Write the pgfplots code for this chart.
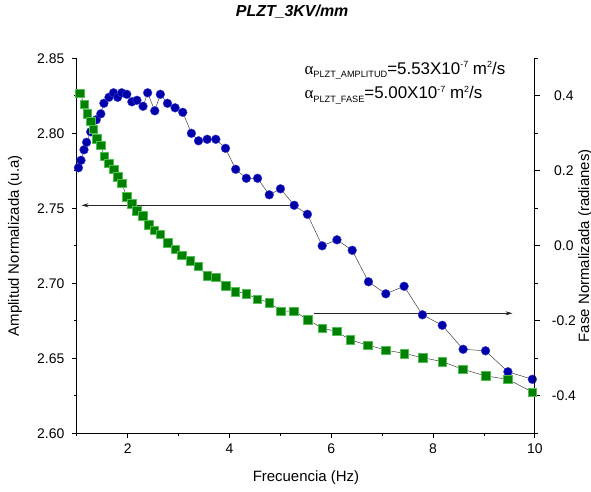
\documentclass[border=0pt]{standalone}
\usepackage{fontspec}
\setmainfont{Liberation Sans}
\newfontfamily\serifa{Liberation Serif}
\usepackage{pgfplots}
\pgfplotsset{compat=1.18}
\usetikzlibrary{arrows.meta}
\definecolor{cblue}{RGB}{0,0,170}
\definecolor{cblueb}{RGB}{60,60,210}
\definecolor{cgreen}{RGB}{0,128,0}
\definecolor{cgreenb}{RGB}{80,190,80}

\pgfplotstableread{
x y
1.03 2.777
1.08 2.782
1.14 2.789
1.19 2.794
1.27 2.801
1.38 2.809
1.47 2.813
1.53 2.820
1.63 2.824
1.72 2.827
1.80 2.824
1.88 2.827
1.98 2.826
2.08 2.821
2.18 2.822
2.30 2.818
2.39 2.827
2.53 2.815
2.64 2.826
2.78 2.820
2.93 2.817
3.08 2.814
3.25 2.800
3.39 2.795
3.56 2.796
3.73 2.796
3.92 2.790
4.12 2.776
4.33 2.770
4.55 2.770
4.78 2.759
5.00 2.763
5.27 2.752
5.53 2.746
5.82 2.725
6.11 2.729
6.41 2.722
6.73 2.701
7.07 2.693
7.43 2.698
7.79 2.679
8.18 2.672
8.59 2.656
9.03 2.655
9.47 2.641
9.95 2.636
}\amp

\pgfplotstableread{
x y
1.06 0.407
1.14 0.378
1.20 0.353
1.27 0.332
1.32 0.311
1.39 0.286
1.47 0.268
1.54 0.239
1.63 0.220
1.72 0.204
1.80 0.184
1.88 0.167
1.98 0.131
2.08 0.112
2.18 0.094
2.29 0.080
2.41 0.057
2.52 0.042
2.64 0.031
2.78 0.008
2.93 -0.009
3.06 -0.025
3.23 -0.040
3.38 -0.054
3.56 -0.080
3.73 -0.084
3.92 -0.107
4.11 -0.122
4.33 -0.127
4.54 -0.142
4.78 -0.151
5.01 -0.174
5.26 -0.174
5.54 -0.197
5.82 -0.220
6.10 -0.228
6.37 -0.251
6.72 -0.265
7.07 -0.278
7.43 -0.287
7.79 -0.298
8.18 -0.309
8.58 -0.329
9.03 -0.347
9.47 -0.356
9.95 -0.390
}\fase

\begin{document}
\begin{tikzpicture}
\pgfplotsset{
 every axis/.append style={
  scale only axis, width=458bp, height=375bp,
  xmin=1, xmax=10,
  /pgf/number format/assume math mode=true,
  tick label style={font=\fontsize{14}{16}\selectfont},
  label style={font=\fontsize{15}{17}\selectfont},
  tick align=outside,
  major tick length=5bp, minor tick length=3bp,
  tick style={black, line width=0.8bp},
  axis line style={-, line width=0.8bp},
  clip=false,
 }
}
\begin{axis}[name=ax,
  axis x line*=bottom, axis y line*=left,
  ymin=2.60, ymax=2.85,
  ytick={2.60,2.65,2.70,2.75,2.80,2.85},
  minor ytick={2.625,2.675,2.725,2.775,2.825},
  yticklabel style={/pgf/number format/.cd,fixed,fixed zerofill,precision=2,/tikz/.cd,xshift=-4bp},
  xticklabel style={yshift=-2bp},
  xtick={2,4,6,8,10}, minor xtick={1,3,5,7,9},
  xlabel={Frecuencia (Hz)}, ylabel={Amplitud Normalizada (u.a)},
  xlabel style={at={(axis description cs:0.5,-0.119)}, anchor=center},
  ylabel style={at={(axis description cs:-0.135,0.5)}, anchor=center},
  title={\bfseries\itshape PLZT\_3KV/mm},
  title style={font=\fontsize{16}{18}\selectfont, at={(axis description cs:0.47,1.1235)}, anchor=center, yshift=-6pt},
]
\addplot[draw=black!75, line width=0.5bp, mark=*, mark size=4.4bp,
  mark options={fill=cblue, draw=cblueb, line width=0.4bp}] table[x=x,y=y] {\amp};
\draw[-{Stealth[length=7bp,width=4bp]}, line width=0.6bp, black!85]
  (axis cs:5.19,2.752) -- (axis cs:1.09,2.752);
\draw[-{Stealth[length=7bp,width=4bp]}, line width=0.6bp, black!85]
  (axis cs:5.65,2.68) -- (axis cs:9.56,2.68);
\node[anchor=base west, font=\fontsize{17}{19}\selectfont, inner sep=0pt] at (axis cs:5.47,2.8395)
  {{\serifa α}\raisebox{-3.5bp}{\fontsize{9.2}{10}\selectfont PLZT\_AMPLITUD}=5.53X10\raisebox{6.5bp}{\fontsize{9}{10}\selectfont -7} m\raisebox{6.5bp}{\fontsize{9}{10}\selectfont 2}/s};
\node[anchor=base west, font=\fontsize{17}{19}\selectfont, inner sep=0pt] at (axis cs:5.47,2.823)
  {{\serifa α}\raisebox{-3.5bp}{\fontsize{9.2}{10}\selectfont PLZT\_FASE}=5.00X10\raisebox{6.5bp}{\fontsize{9}{10}\selectfont -7} m\raisebox{6.5bp}{\fontsize{9}{10}\selectfont 2}/s};
\end{axis}
\begin{axis}[
  axis y line*=right, axis x line=none,
  ymin=-0.5, ymax=0.5,
  ytick={-0.4,-0.2,0,0.2,0.4},
  minor ytick={-0.5,-0.3,-0.1,0.1,0.3,0.5},
  yticklabel style={/pgf/number format/.cd,fixed,fixed zerofill,precision=1,/tikz/.cd,anchor=center,xshift=24bp},
  ylabel={Fase Normalizada (radianes)},
  ylabel style={at={(axis description cs:1.11,0.5)}, anchor=center},
]
\addplot[draw=black!75, line width=0.5bp, mark=square*, mark size=4.3bp,
  mark options={fill=cgreen, draw=cgreenb, line width=0.4bp}] table[x=x,y=y] {\fase};
\end{axis}
\pgfresetboundingbox
\path (ax.south west) ++(-76.9bp,-58.7bp) rectangle ++(591bp,492bp);
\end{tikzpicture}
\end{document}
